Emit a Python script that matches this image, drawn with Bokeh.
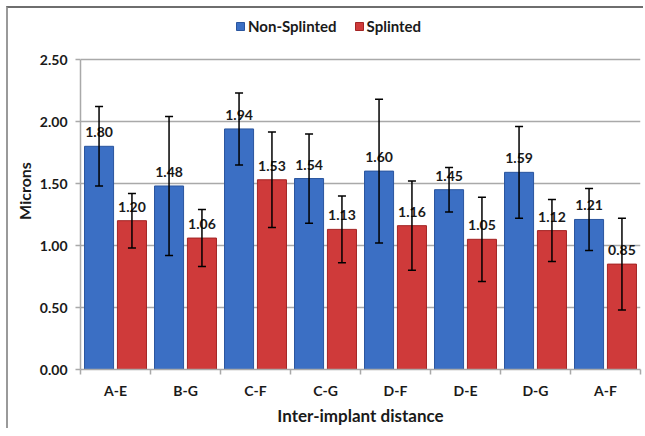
import numpy as np
from bokeh.plotting import figure
from bokeh.models import (ColumnDataSource, Range1d, FixedTicker, NumeralTickFormatter,
                          Whisker, TeeHead, Legend, LegendItem)
from bokeh.core.properties import value
from bokeh.embed import file_html
from bokeh.resources import INLINE

# ---- data ----
categories = ["A-E", "B-G", "C-F", "C-G", "D-F", "D-E", "D-G", "A-F"]
non_splinted = [1.80, 1.48, 1.94, 1.54, 1.60, 1.45, 1.59, 1.21]
non_splinted_err = [0.32, 0.56, 0.29, 0.36, 0.58, 0.18, 0.37, 0.25]
splinted = [1.20, 1.06, 1.53, 1.13, 1.16, 1.05, 1.12, 0.85]
splinted_err = [0.22, 0.23, 0.385, 0.27, 0.36, 0.34, 0.25, 0.37]
y_ticks = [0.0, 0.5, 1.0, 1.5, 2.0, 2.5]

FONT = "Lato"
BLUE = "#3b6fc4"
BLUE_EDGE = "#2a559e"
RED = "#cf3a3a"
RED_EDGE = "#a32424"
GRID = "#a9a9a9"

n = len(categories)
centers = np.arange(n) + 0.5
off = 0.235
bw = 0.415

# frame covers axis area (310 px for 0..2.5) plus legend strip above it
AXIS_PX = 310
FRAME_PX = 357
y_top = y_ticks[-1] * FRAME_PX / AXIS_PX

def make_src(vals, errs, shift):
    v = np.array(vals)
    e = np.array(errs)
    return ColumnDataSource(dict(
        x=centers + shift, top=v, upper=v + e, lower=v - e,
        label=["%.2f" % t for t in v]))

src_ns = make_src(non_splinted, non_splinted_err, -off)
src_s = make_src(splinted, splinted_err, off)

p = figure(width=635, height=420, output_backend="svg", toolbar_location=None,
           x_range=Range1d(0, n), y_range=Range1d(0, y_top),
           frame_width=560, frame_height=FRAME_PX,
           min_border_left=72, min_border_right=3, min_border_top=4, min_border_bottom=59)
p.styles = {"margin-top": "6px", "margin-left": "6px",
            "border-top": "2px solid #6e6e6e", "border-left": "2px solid #9a9a9a"}
p.outline_line_color = None
p.background_fill_color = "white"
p.border_fill_color = "white"

r_ns = p.vbar(x="x", top="top", width=bw, source=src_ns, fill_color=BLUE,
              line_color=BLUE_EDGE, line_width=1)
r_s = p.vbar(x="x", top="top", width=bw, source=src_s, fill_color=RED,
             line_color=RED_EDGE, line_width=1)

for src in (src_ns, src_s):
    w = Whisker(base="x", upper="upper", lower="lower", source=src, dimension="height",
                line_color="black", line_width=1.5, level="overlay",
                upper_head=TeeHead(size=8, line_width=1.5, line_color="black"),
                lower_head=TeeHead(size=8, line_width=1.5, line_color="black"))
    p.add_layout(w)
    p.text(x="x", y="top", text="label", source=src, text_align="center",
           text_baseline="bottom", y_offset=-9, text_font=value(FONT),
           text_font_style="bold", text_font_size="14px", text_color="#1a1a1a",
           level="overlay")

# axes
p.xaxis.ticker = FixedTicker(ticks=list(centers), minor_ticks=list(range(n + 1)))
p.xaxis.major_label_overrides = {float(c): cat for c, cat in zip(centers, categories)}
p.xaxis.major_tick_line_color = None
p.xaxis.minor_tick_out = 5
p.xaxis.minor_tick_in = 0
p.xaxis.minor_tick_line_color = GRID
p.xaxis.minor_tick_line_width = 1.5
p.xaxis.axis_line_color = GRID
p.xaxis.axis_line_width = 1.5
p.xaxis.major_label_standoff = 6
p.xaxis.axis_label = "Inter-implant distance"
p.xaxis.axis_label_standoff = 3

p.yaxis.ticker = FixedTicker(ticks=y_ticks)
p.yaxis.bounds = (y_ticks[0], y_ticks[-1])
p.yaxis.formatter = NumeralTickFormatter(format="0.00")
p.yaxis.minor_tick_line_color = None
p.yaxis.major_tick_out = 5
p.yaxis.major_tick_in = 0
p.yaxis.major_tick_line_color = GRID
p.yaxis.major_tick_line_width = 1.5
p.yaxis.axis_line_color = GRID
p.yaxis.axis_line_width = 1.5
p.yaxis.major_label_standoff = 8
p.yaxis.axis_label = "Microns"
p.yaxis.axis_label_standoff = 3

for ax in (p.xaxis, p.yaxis):
    ax.major_label_text_font = FONT
    ax.major_label_text_font_style = "bold"
    ax.major_label_text_font_size = "14px"
    ax.major_label_text_color = "#1a1a1a"
    ax.axis_label_text_font = FONT
    ax.axis_label_text_font_style = "bold"
    ax.axis_label_text_color = "#1a1a1a"
p.xaxis.axis_label_text_font_size = "17px"
p.yaxis.axis_label_text_font_size = "16px"

p.xgrid.grid_line_color = None
p.ygrid.grid_line_color = GRID
p.ygrid.grid_line_width = 1.5
p.ygrid.ticker = FixedTicker(ticks=y_ticks)

legend = Legend(items=[LegendItem(label="Non-Splinted", renderers=[r_ns]),
                       LegendItem(label="Splinted", renderers=[r_s])],
                orientation="horizontal", location=(155, 334),
                padding=0, margin=0, spacing=17, label_standoff=3,
                glyph_width=10, glyph_height=10,
                label_text_font=FONT, label_text_font_style="bold",
                label_text_font_size="15px", label_text_color="#1a1a1a",
                border_line_color=None, background_fill_alpha=0)
p.add_layout(legend, "center")

open("out.html", "w").write(file_html(p, INLINE))
